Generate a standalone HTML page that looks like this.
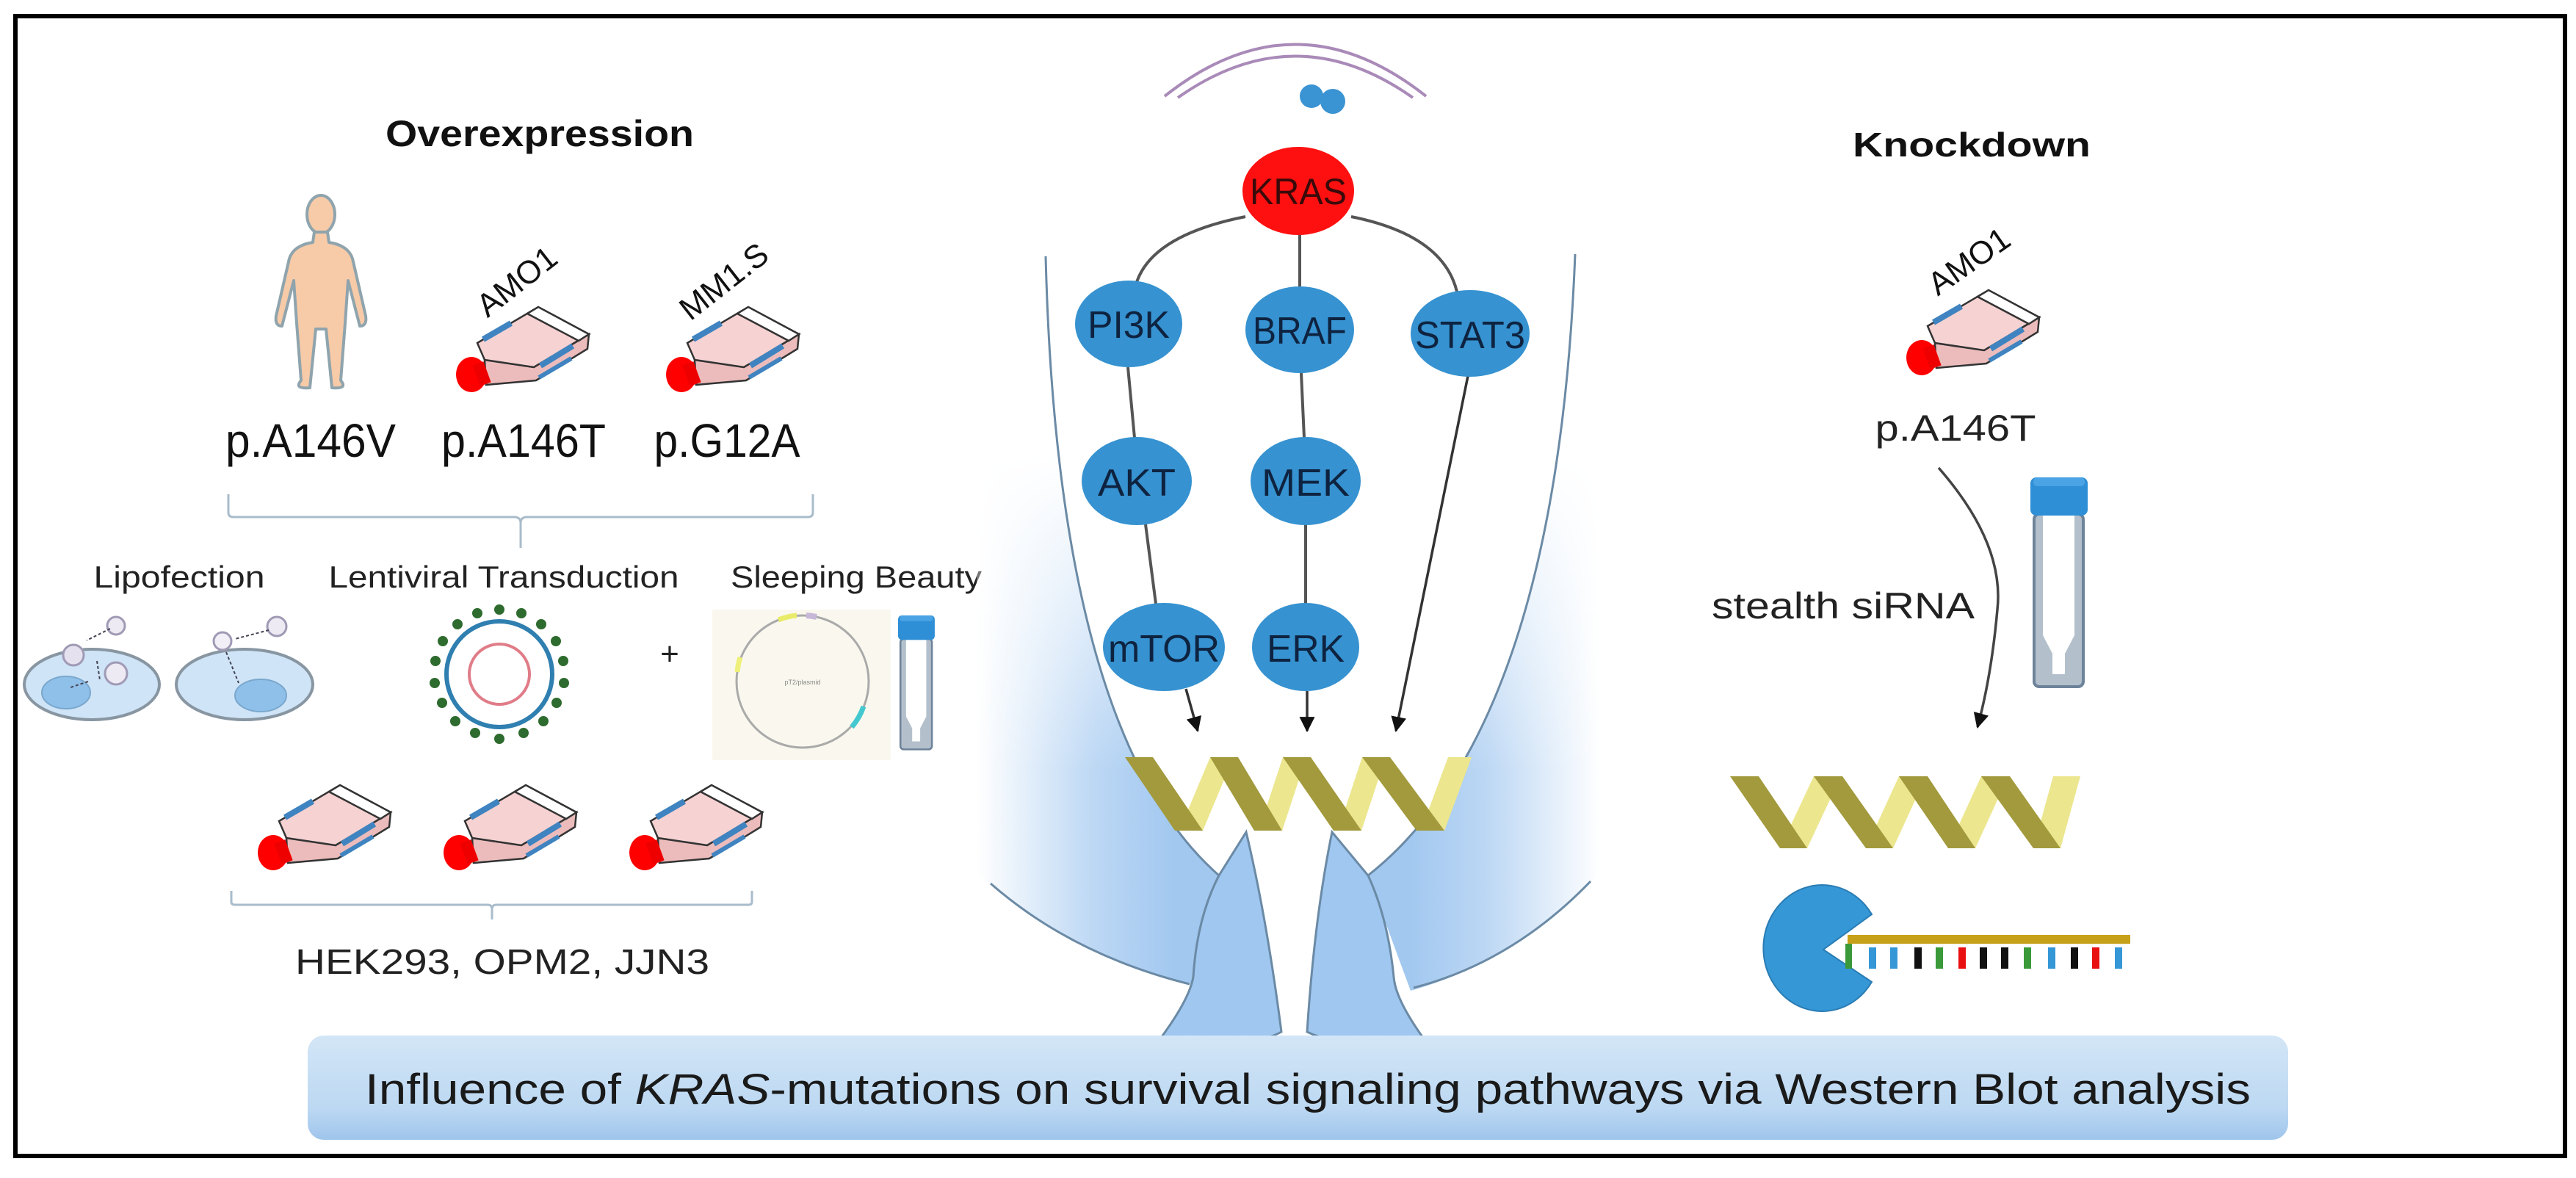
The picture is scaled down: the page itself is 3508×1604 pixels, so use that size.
<!DOCTYPE html>
<html><head><meta charset="utf-8"><style>html,body{margin:0;padding:0;background:#fff}svg{display:block}</style></head>
<body>
<svg width="3508" height="1604" viewBox="0 0 3508 1604" xmlns="http://www.w3.org/2000/svg" font-family="'Liberation Sans', sans-serif">
<defs>
  <g id="flask">
    <path d="M42,72 L109,82 L184,37 L182,57 L112,100 L44,106 Z" fill="#ecbcbc" stroke="#333" stroke-width="2.5"/>
    <path d="M32,49 L115,0 L184,37 L109,82 L42,72 Z" fill="#f6d2d2" stroke="#333" stroke-width="2.5"/>
    <path d="M100,9 L115,0 L184,37 L170,46 Z" fill="#fff" stroke="#333" stroke-width="2.5"/>
    <line x1="40" y1="44" x2="78" y2="22" stroke="#3f84c0" stroke-width="8"/>
    <line x1="118" y1="80" x2="162" y2="53" stroke="#3f84c0" stroke-width="8"/>
    <line x1="116" y1="96" x2="160" y2="70" stroke="#3f84c0" stroke-width="6"/>
    <ellipse cx="24" cy="92" rx="21" ry="24" fill="#f00"/>
    <rect x="30" y="76" width="16" height="30" fill="#e00" transform="rotate(-20 38 91)"/>
  </g>
  <g id="tube">
    <rect x="5" y="50" width="67" height="235" rx="7" fill="#b3c0cc" stroke="#6d8399" stroke-width="4"/>
    <path d="M17,52 L17,215 L30,240 L30,268 L47,268 L47,240 L60,215 L60,52 Z" fill="#fff"/>
    <rect x="0" y="0" width="78" height="52" rx="8" fill="#2f8fd6"/>
    <rect x="4" y="0" width="70" height="12" rx="5" fill="#4aa3e4"/>
  </g>
  <linearGradient id="hL" x1="1330" y1="0" x2="1600" y2="0" gradientUnits="userSpaceOnUse">
    <stop offset="0" stop-color="#ffffff"/><stop offset="0.6" stop-color="#bcd7f4"/><stop offset="1" stop-color="#a2c8f0"/>
  </linearGradient>
  <linearGradient id="hR" x1="2180" y1="0" x2="1920" y2="0" gradientUnits="userSpaceOnUse">
    <stop offset="0" stop-color="#ffffff"/><stop offset="0.6" stop-color="#bcd7f4"/><stop offset="1" stop-color="#a2c8f0"/>
  </linearGradient>
  <linearGradient id="vfade" x1="0" y1="620" x2="0" y2="1050" gradientUnits="userSpaceOnUse">
    <stop offset="0" stop-color="#000"/><stop offset="1" stop-color="#fff"/>
  </linearGradient>
  <mask id="vm" maskUnits="userSpaceOnUse" x="0" y="0" width="3508" height="1604">
    <rect x="0" y="0" width="3508" height="1604" fill="url(#vfade)"/>
  </mask>
  <linearGradient id="bar" x1="0" y1="0" x2="0" y2="1">
    <stop offset="0" stop-color="#d3e6f7"/><stop offset="0.7" stop-color="#bcd8f2"/><stop offset="1" stop-color="#9fc5ec"/>
  </linearGradient>
  <marker id="ah" viewBox="0 0 10 10" refX="9" refY="5" markerWidth="6" markerHeight="6" orient="auto">
    <path d="M0,0 L10,5 L0,10 Z" fill="#111"/>
  </marker>
</defs>

<rect x="0" y="0" width="3508" height="1604" fill="#fff"/>
<rect x="21" y="22" width="3472" height="1552" fill="none" stroke="#000" stroke-width="6"/>

<!-- LEFT: Overexpression -->
<text x="735" y="199" font-size="50" font-weight="bold" text-anchor="middle" textLength="420" lengthAdjust="spacingAndGlyphs" fill="#111">Overexpression</text>

<ellipse cx="437" cy="292" rx="19" ry="26" fill="#f7caa8" stroke="#8fa4ad" stroke-width="4"/>
<path d="M428,316 L446,316 L448,330 Q474,334 480,352 L498,430 Q500,444 490,444 L474,382 L470,440 L464,518 Q474,530 452,528 L444,448 L430,448 L422,528 Q400,530 410,518 L404,440 L400,382 L384,444 Q374,444 376,430 L394,352 Q400,334 426,330 Z" fill="#f7caa8" stroke="#8fa4ad" stroke-width="4" stroke-linejoin="round"/>

<use href="#flask" x="618" y="418"/>
<use href="#flask" x="904" y="418"/>
<text transform="translate(713,395) rotate(-38)" font-size="44" text-anchor="middle" fill="#111">AMO1</text>
<text transform="translate(995,395) rotate(-38)" font-size="44" text-anchor="middle" fill="#111">MM1.S</text>

<text x="423" y="622" font-size="64" text-anchor="middle" textLength="232" lengthAdjust="spacingAndGlyphs" fill="#111">p.A146V</text>
<text x="713" y="622" font-size="64" text-anchor="middle" textLength="224" lengthAdjust="spacingAndGlyphs" fill="#111">p.A146T</text>
<text x="990" y="622" font-size="64" text-anchor="middle" textLength="199" lengthAdjust="spacingAndGlyphs" fill="#111">p.G12A</text>

<path d="M311,673 L311,698 Q311,704 318,704 L700,704 Q709,704 709,712 L709,746 M709,712 Q709,704 718,704 L1100,704 Q1107,704 1107,698 L1107,673" fill="none" stroke="#a9bccb" stroke-width="3"/>

<text x="244" y="800" font-size="42" text-anchor="middle" textLength="233" lengthAdjust="spacingAndGlyphs" fill="#222">Lipofection</text>
<text x="686" y="800" font-size="42" text-anchor="middle" textLength="477" lengthAdjust="spacingAndGlyphs" fill="#222">Lentiviral Transduction</text>
<text x="1166" y="800" font-size="42" text-anchor="middle" textLength="342" lengthAdjust="spacingAndGlyphs" fill="#222">Sleeping Beauty</text>

<ellipse cx="125" cy="932" rx="92" ry="48" fill="#cfe4f7" stroke="#8896a2" stroke-width="4"/>
<ellipse cx="90" cy="943" rx="33" ry="22" fill="#8fc0ea" stroke="#7aa7cc" stroke-width="2"/>
<circle cx="100" cy="892" r="14" fill="#e5e1ef" stroke="#a09ab5" stroke-width="3"/>
<circle cx="158" cy="917" r="15" fill="#eeeaf3" stroke="#a09ab5" stroke-width="3"/>
<circle cx="158" cy="852" r="12" fill="#eeeaf3" stroke="#a09ab5" stroke-width="3"/>
<path d="M150,856 L118,872 M132,900 L136,926 M120,928 L96,936" stroke="#445" stroke-width="2" stroke-dasharray="4 3"/>
<ellipse cx="333" cy="932" rx="93" ry="48" fill="#cfe4f7" stroke="#8896a2" stroke-width="4"/>
<ellipse cx="355" cy="947" rx="35" ry="22" fill="#8fc0ea" stroke="#7aa7cc" stroke-width="2"/>
<circle cx="303" cy="873" r="12" fill="#f2eff6" stroke="#a09ab5" stroke-width="3"/>
<circle cx="377" cy="853" r="13" fill="#eeeaf3" stroke="#a09ab5" stroke-width="3"/>
<path d="M366,858 L320,870 M308,888 L325,930" stroke="#445" stroke-width="2" stroke-dasharray="4 3"/>

<g fill="#2e6b2e">
<circle cx="680" cy="830" r="7"/><circle cx="710" cy="835" r="7"/><circle cx="737" cy="850" r="7"/><circle cx="757" cy="873" r="7"/><circle cx="767" cy="900" r="7"/><circle cx="768" cy="930" r="7"/><circle cx="758" cy="957" r="7"/><circle cx="740" cy="982" r="7"/><circle cx="713" cy="998" r="7"/><circle cx="680" cy="1006" r="7"/><circle cx="647" cy="998" r="7"/><circle cx="620" cy="982" r="7"/><circle cx="602" cy="957" r="7"/><circle cx="592" cy="930" r="7"/><circle cx="593" cy="900" r="7"/><circle cx="603" cy="873" r="7"/><circle cx="623" cy="850" r="7"/><circle cx="650" cy="835" r="7"/>
</g>
<circle cx="680" cy="918" r="72" fill="none" stroke="#2f7fb0" stroke-width="6"/>
<circle cx="680" cy="918" r="41" fill="none" stroke="#e07c88" stroke-width="4"/>
<text x="912" y="905" font-size="44" text-anchor="middle" fill="#222">+</text>

<rect x="970" y="830" width="243" height="205" fill="#faf8ee"/>
<circle cx="1093" cy="928" r="90" fill="none" stroke="#aaa" stroke-width="3"/>
<path d="M1060,844 A90,90 0 0 1 1085,838" stroke="#e8ec6a" stroke-width="7" fill="none"/>
<path d="M1176,962 A90,90 0 0 1 1160,990" stroke="#44c8cf" stroke-width="7" fill="none"/>
<path d="M1004,915 A90,90 0 0 1 1008,895" stroke="#eef07a" stroke-width="7" fill="none"/>
<path d="M1098,838 A90,90 0 0 1 1112,840" stroke="#c8b8d8" stroke-width="8" fill="none"/>
<text x="1093" y="932" font-size="9" text-anchor="middle" fill="#888">pT2/plasmid</text>
<use href="#tube" transform="translate(1223,838) scale(0.64)"/>

<use href="#flask" x="348" y="1069"/>
<use href="#flask" x="601" y="1069"/>
<use href="#flask" x="854" y="1069"/>
<path d="M315,1213 L315,1228 Q315,1232 320,1232 L664,1232 Q670,1232 670,1238 L670,1252 M670,1238 Q670,1232 676,1232 L1019,1232 Q1024,1232 1024,1228 L1024,1213" fill="none" stroke="#a9bccb" stroke-width="3"/>
<text x="684" y="1326" font-size="48" text-anchor="middle" textLength="564" lengthAdjust="spacingAndGlyphs" fill="#222">HEK293, OPM2, JJN3</text>

<!-- CENTER blue glow -->
<g mask="url(#vm)">
  <path d="M1330,600 L1330,1190 L1349,1203 Q1460,1300 1625,1340 L1660,1192 Q1440,1000 1424,349 Z" fill="url(#hL)"/>
  <path d="M2180,600 L2180,1190 L2166,1200 Q2060,1310 1921,1349 L1863,1192 Q2120,990 2145,346 Z" fill="url(#hR)"/>
</g>
<path d="M1349,1203 Q1460,1300 1620,1340" fill="none" stroke="#6b8aa5" stroke-width="3"/>
<path d="M2166,1200 Q2060,1310 1925,1345" fill="none" stroke="#6b8aa5" stroke-width="3"/>
<path d="M1424,349 Q1440,1000 1660,1192" fill="none" stroke="#6b8aa5" stroke-width="3"/>
<path d="M2145,346 Q2120,990 1863,1192" fill="none" stroke="#6b8aa5" stroke-width="3"/>
<path d="M1697,1133 Q1725,1250 1745,1405 Q1700,1430 1581,1413 Q1620,1360 1625,1330 Q1630,1250 1660,1192 Z" fill="#9fc7f0" stroke="#6b8aa5" stroke-width="3"/>
<path d="M1814,1133 Q1790,1250 1780,1405 Q1830,1430 1938,1413 Q1900,1360 1898,1330 Q1890,1250 1863,1192 Z" fill="#9fc7f0" stroke="#6b8aa5" stroke-width="3"/>

<g>
  <path d="M1606,1131 L1648,1031 L1680,1031 L1638,1131 Z" fill="#ece68e"/>
  <path d="M1714,1131 L1747,1031 L1779,1031 L1746,1131 Z" fill="#ece68e"/>
  <path d="M1822,1131 L1855,1031 L1887,1031 L1854,1131 Z" fill="#ece68e"/>
  <path d="M1935,1131 L1972,1031 L2004,1031 L1967,1131 Z" fill="#ece68e"/>
  <path d="M1532,1031 L1570,1031 L1638,1131 L1600,1131 Z" fill="#a29a3c"/>
  <path d="M1648,1031 L1686,1031 L1746,1131 L1708,1131 Z" fill="#a29a3c"/>
  <path d="M1747,1031 L1785,1031 L1854,1131 L1816,1131 Z" fill="#a29a3c"/>
  <path d="M1855,1031 L1893,1031 L1967,1131 L1929,1131 Z" fill="#a29a3c"/>
</g>

<path d="M1586,131 Q1764,-10 1942,131" fill="none" stroke="#a98ab8" stroke-width="4"/>
<path d="M1604,133 Q1764,20 1924,133" fill="none" stroke="#a98ab8" stroke-width="4"/>
<circle cx="1786" cy="131" r="16" fill="#3a93d2"/>
<circle cx="1815" cy="138" r="17" fill="#3a93d2"/>

<g fill="none" stroke="#555" stroke-width="4">
  <path d="M1696,295 Q1570,320 1548,384"/>
  <path d="M1840,295 Q1965,320 1984,397"/>
  <line x1="1770" y1="320" x2="1770" y2="390"/>
  <line x1="1536" y1="500" x2="1545" y2="596"/>
  <line x1="1772" y1="508" x2="1776" y2="596"/>
  <line x1="1560" y1="714" x2="1574" y2="822"/>
  <line x1="1778" y1="714" x2="1778" y2="822"/>
</g>
<g fill="none" stroke="#333" stroke-width="3.5" marker-end="url(#ah)">
  <path d="M1615,938 L1631,995"/>
  <path d="M1780,941 L1780,995"/>
  <path d="M1999,512 L1901,995"/>
</g>

<ellipse cx="1768" cy="260" rx="76" ry="60" fill="#ff1010"/>
<text x="1768" y="278" font-size="50" text-anchor="middle" textLength="132" lengthAdjust="spacingAndGlyphs" fill="#3a0a0a">KRAS</text>
<g fill="#3692d0">
  <ellipse cx="1537" cy="441" rx="73" ry="59"/>
  <ellipse cx="1770" cy="449" rx="74" ry="59"/>
  <ellipse cx="2002" cy="454" rx="81" ry="59"/>
  <ellipse cx="1548" cy="655" rx="75" ry="60"/>
  <ellipse cx="1778" cy="655" rx="75" ry="60"/>
  <ellipse cx="1585" cy="881" rx="83" ry="60"/>
  <ellipse cx="1778" cy="881" rx="73" ry="60"/>
</g>
<g font-size="52" text-anchor="middle" fill="#0e2340">
  <text x="1537" y="460" textLength="112" lengthAdjust="spacingAndGlyphs">PI3K</text>
  <text x="1770" y="468" textLength="128" lengthAdjust="spacingAndGlyphs">BRAF</text>
  <text x="2002" y="474" textLength="150" lengthAdjust="spacingAndGlyphs">STAT3</text>
  <text x="1548" y="675" textLength="106" lengthAdjust="spacingAndGlyphs">AKT</text>
  <text x="1778" y="675" textLength="120" lengthAdjust="spacingAndGlyphs">MEK</text>
  <text x="1585" y="901" textLength="152" lengthAdjust="spacingAndGlyphs">mTOR</text>
  <text x="1778" y="901" textLength="106" lengthAdjust="spacingAndGlyphs">ERK</text>
</g>

<text x="2685" y="213" font-size="46" font-weight="bold" text-anchor="middle" textLength="324" lengthAdjust="spacingAndGlyphs" fill="#111">Knockdown</text>
<use href="#flask" x="2593" y="395"/>
<text transform="translate(2690,368) rotate(-35)" font-size="44" text-anchor="middle" fill="#111">AMO1</text>
<text x="2663" y="600" font-size="50" text-anchor="middle" textLength="219" lengthAdjust="spacingAndGlyphs" fill="#222">p.A146T</text>
<path d="M2640,637 Q2730,740 2720,830 Q2712,920 2693,990" fill="none" stroke="#444" stroke-width="3.5" marker-end="url(#ah)"/>
<text x="2510" y="842" font-size="50" text-anchor="middle" textLength="358" lengthAdjust="spacingAndGlyphs" fill="#222">stealth siRNA</text>
<use href="#tube" x="2765" y="650"/>

<g>
  <path d="M2424,1155 L2470,1057 L2507,1057 L2461,1155 Z" fill="#ece68e"/>
  <path d="M2541,1155 L2586,1057 L2623,1057 L2578,1155 Z" fill="#ece68e"/>
  <path d="M2653,1155 L2698,1057 L2735,1057 L2690,1155 Z" fill="#ece68e"/>
  <path d="M2769,1155 L2796,1057 L2833,1057 L2806,1155 Z" fill="#ece68e"/>
  <path d="M2356,1057 L2395,1057 L2461,1155 L2424,1155 Z" fill="#a29a3c"/>
  <path d="M2470,1057 L2509,1057 L2578,1155 L2541,1155 Z" fill="#a29a3c"/>
  <path d="M2586,1057 L2625,1057 L2690,1155 L2653,1155 Z" fill="#a29a3c"/>
  <path d="M2698,1057 L2737,1057 L2806,1155 L2769,1155 Z" fill="#a29a3c"/>
</g>

<path d="M2549,1245 A80,86 0 1 0 2549,1337 L2483,1293 Z" fill="#3597d6" stroke="#2a7cb3" stroke-width="2"/>
<rect x="2516" y="1273" width="385" height="12" fill="#c7a01a"/>
<g>
  <rect x="2513" y="1285" width="9" height="34" fill="#3a9a3a"/>
  <rect x="2545" y="1290" width="10" height="29" fill="#3597d6"/>
  <rect x="2574" y="1290" width="10" height="29" fill="#3597d6"/>
  <rect x="2607" y="1290" width="10" height="29" fill="#111"/>
  <rect x="2636" y="1290" width="10" height="29" fill="#3a9a3a"/>
  <rect x="2667" y="1290" width="10" height="29" fill="#e81010"/>
  <rect x="2696" y="1290" width="10" height="29" fill="#111"/>
  <rect x="2725" y="1290" width="10" height="29" fill="#111"/>
  <rect x="2756" y="1290" width="10" height="29" fill="#3a9a3a"/>
  <rect x="2789" y="1290" width="10" height="29" fill="#3597d6"/>
  <rect x="2820" y="1290" width="10" height="29" fill="#111"/>
  <rect x="2849" y="1290" width="10" height="29" fill="#e81010"/>
  <rect x="2880" y="1290" width="10" height="29" fill="#3597d6"/>
</g>

<rect x="419" y="1410" width="2697" height="142" rx="22" fill="url(#bar)"/>
<text x="497" y="1503" font-size="58" textLength="2568" lengthAdjust="spacingAndGlyphs" fill="#1a1a1a">Influence of <tspan font-style="italic">KRAS</tspan>-mutations on survival signaling pathways via Western Blot analysis</text>
</svg>
</body></html>
